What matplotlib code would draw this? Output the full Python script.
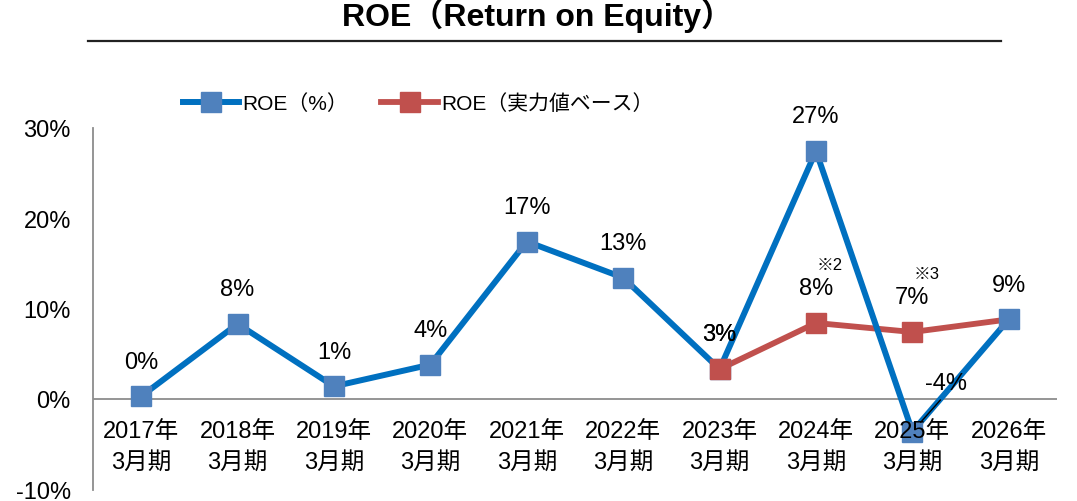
import matplotlib
matplotlib.use("Agg")
import matplotlib.pyplot as plt
from matplotlib.lines import Line2D
import numpy as np

plt.rcParams['font.family'] = ['Liberation Sans', 'Noto Sans CJK JP', 'DejaVu Sans']

# Fiscal years (March year-end)
years = ['2017年', '2018年', '2019年', '2020年', '2021年',
         '2022年', '2023年', '2024年', '2025年', '2026年']
period = '3月期'

# ROE (%) as reported
roe = [0.3, 8.3, 1.4, 3.8, 17.4, 13.4, 3.3, 27.4, -3.6, 8.8]
# ROE on an underlying (adjusted) basis, from FY2023 onward
roe_adj_start = 6
roe_adj = [3.3, 8.4, 7.4, 8.8]
# footnote marks attached to adjusted values
adj_notes = {7: '※2', 8: '※3'}

series_names = ['ROE（%）', 'ROE（実力値ベース）']
title = 'ROE（Return on Equity）'

BLUE_LINE = '#0070C0'
BLUE_MARK = '#4F81BD'
RED = '#C0504D'
GREY = '#8C8C8C'

fig = plt.figure(figsize=(10.77, 5.02), dpi=100)
ax = fig.add_axes([93 / 1077, 1 - 490.5 / 502, (1057 - 93) / 1077, (490.5 - 128.5) / 502])

x = np.arange(len(years))
x_adj = x[roe_adj_start:]

# lines
ax.plot(x_adj, roe_adj, color=RED, lw=4.2, zorder=2, solid_capstyle='butt')
ax.plot(x, roe, color=BLUE_LINE, lw=4.3, zorder=3)
# markers
ax.plot(x, roe, ls='none', marker='s', ms=14.5, mfc=BLUE_MARK, mec=BLUE_MARK, zorder=4)
ax.plot(x_adj[:-1], roe_adj[:-1], ls='none', marker='s', ms=14.5, mfc=RED, mec=RED, zorder=5)

ax.set_xlim(-0.5, len(years) - 0.5)
ax.set_ylim(-10, 30)
ax.set_yticks([-10, 0, 10, 20, 30])
ax.set_yticklabels([f'{v}%' for v in [-10, 0, 10, 20, 30]], fontsize=17)
ax.tick_params(axis='y', length=0, pad=16)
ax.set_xticks([])

for s in ['top', 'right', 'bottom']:
    ax.spines[s].set_visible(False)
ax.spines['left'].set_color(GREY)
ax.spines['left'].set_linewidth(1.3)
ax.axhline(0, color=GREY, lw=1.3, zorder=1)

# category labels hanging below the zero line
for xi, yr in zip(x, years):
    ax.annotate(yr, (xi, 0), xytext=(0, -23), textcoords='offset points',
                ha='center', va='center', fontsize=17, zorder=7, annotation_clip=False)
    ax.annotate(period, (xi, 0), xytext=(0, -45), textcoords='offset points',
                ha='center', va='center', fontsize=17, zorder=7, annotation_clip=False)

# value labels
for xi, v in zip(x, roe):
    if v < 0:
        ax.annotate(f'{v:.0f}%', (xi, v), xytext=(24, 35), textcoords='offset points',
                    ha='center', va='center', fontsize=17, zorder=8,
                    arrowprops=dict(arrowstyle='-', color='black', lw=1.0,
                                    relpos=(0.5, 0.0), shrinkA=3, shrinkB=9))
    else:
        ax.annotate(f'{v:.0f}%', (xi, v), xytext=(0, 25), textcoords='offset points',
                    ha='center', va='center', fontsize=17, zorder=8)

for xi, v in zip(x_adj[:-1], roe_adj[:-1]):
    ax.annotate(f'{v:.0f}%', (xi, v), xytext=(0, 25), textcoords='offset points',
                ha='center', va='center', fontsize=17, zorder=8)
    if xi in adj_notes:
        ax.annotate(adj_notes[xi], (xi, v), xytext=(10, 42), textcoords='offset points',
                    ha='center', va='center', fontsize=12, zorder=8)

# title and rule
fig.text(537 / 1077, 1 - 26 / 502, title, ha='center', va='baseline',
         fontsize=23, fontweight='bold')
fig.add_artist(Line2D([88 / 1077, 1001 / 1077], [1 - 41.5 / 502, 1 - 41.5 / 502],
                      color='#222222', lw=1.6, transform=fig.transFigure))

# legend
handles = [Line2D([], [], color=BLUE_LINE, lw=4.3, marker='s', ms=14.5,
                  mfc=BLUE_MARK, mec=BLUE_MARK),
           Line2D([], [], color=RED, lw=4.2, marker='s', ms=14.5, mfc=RED, mec=RED)]
fig.legend(handles, series_names, loc='center left', bbox_to_anchor=(183 / 1077, 1 - 104 / 502),
           ncol=2, frameon=False, fontsize=15, handlelength=2.7, handletextpad=0.15,
           columnspacing=1.6, borderpad=0, borderaxespad=0)

fig.savefig('out.png', dpi=100)
